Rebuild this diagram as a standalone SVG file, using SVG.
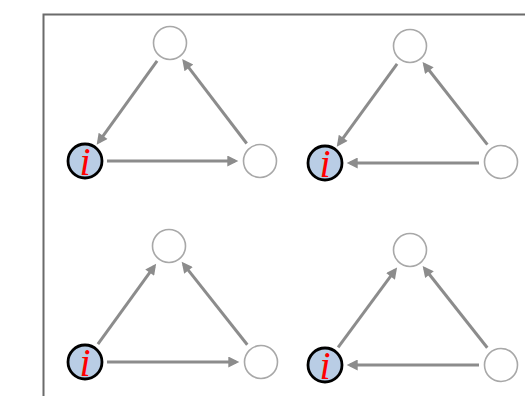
<svg xmlns="http://www.w3.org/2000/svg" width="525" height="396" viewBox="0 0 525 396">
<style>
.frame{fill:none;stroke:#6b6b6b;stroke-width:2}
.n{fill:#fff;stroke:#a8a8a8;stroke-width:1.6}
.ni{fill:#b9cde5;stroke:#000;stroke-width:2.8}
.lbl{font-family:"Liberation Serif",serif;font-style:italic;font-size:40px;fill:#ff0000;text-anchor:middle}
.e{stroke:#8c8c8c;stroke-width:3;fill:none;marker-end:url(#ah)}
</style>
<defs>
<marker id="ah" viewBox="0 0 10 10" refX="7" refY="5" markerWidth="13" markerHeight="11" markerUnits="userSpaceOnUse" orient="auto">
<path d="M0,0 L10,5 L0,10 z" fill="#8c8c8c"/>
</marker>
</defs>
<rect class="frame" x="43.5" y="14.5" width="500" height="400"/>
<g id="edges">
<line class="e" x1="157.1" y1="60.9" x2="98.6" y2="142.1"/>
<line class="e" x1="107" y1="161" x2="235" y2="161"/>
<line class="e" x1="246.7" y1="143.5" x2="184.2" y2="61.7"/>
<line class="e" x1="397.1" y1="63.8" x2="338.7" y2="144.1"/>
<line class="e" x1="479" y1="163" x2="350" y2="163"/>
<line class="e" x1="487.4" y1="144.7" x2="424.6" y2="64.5"/>
<line class="e" x1="97.9" y1="344.2" x2="154.2" y2="266.4"/>
<line class="e" x1="107" y1="362" x2="236" y2="362"/>
<line class="e" x1="247.3" y1="344.8" x2="183.7" y2="264.4"/>
<line class="e" x1="338.1" y1="347.3" x2="395.1" y2="270.2"/>
<line class="e" x1="479" y1="365" x2="350" y2="365"/>
<line class="e" x1="487.3" y1="347.7" x2="424.7" y2="268.5"/>
</g>
<g id="p1-top"><circle class="n" cx="170" cy="43" r="16.5"/></g>
<g id="p1-i"><circle class="ni" cx="85" cy="161" r="17"/><text class="lbl" x="85" y="174.5">i</text></g>
<g id="p1-right"><circle class="n" cx="260" cy="161" r="16.5"/></g>
<g id="p2-top"><circle class="n" cx="410" cy="46" r="16.5"/></g>
<g id="p2-i"><circle class="ni" cx="325" cy="163" r="17"/><text class="lbl" x="325" y="176.5">i</text></g>
<g id="p2-right"><circle class="n" cx="501" cy="162" r="16.5"/></g>
<g id="p3-top"><circle class="n" cx="169" cy="246" r="16.5"/></g>
<g id="p3-i"><circle class="ni" cx="85" cy="362" r="17"/><text class="lbl" x="85" y="375.5">i</text></g>
<g id="p3-right"><circle class="n" cx="261" cy="362" r="16.5"/></g>
<g id="p4-top"><circle class="n" cx="410" cy="250" r="16.5"/></g>
<g id="p4-i"><circle class="ni" cx="325" cy="365" r="17"/><text class="lbl" x="325" y="378.5">i</text></g>
<g id="p4-right"><circle class="n" cx="501" cy="365" r="16.5"/></g>
</svg>
